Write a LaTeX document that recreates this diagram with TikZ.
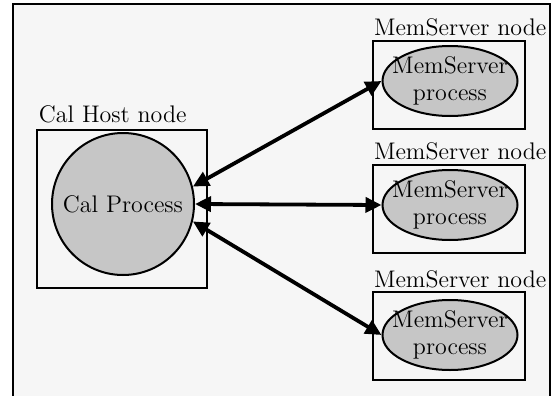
\documentclass[tikz,border=0pt]{standalone}
\usepackage{tikz}
\usetikzlibrary{arrows.meta,shapes.geometric}

\begin{document}
\begin{tikzpicture}[
            x=0.5pt, y=-0.5pt, line width=1pt,
            font=\fontsize{12}{13.5}\selectfont,
        host box/.style={draw,minimum width=85pt,minimum height=79pt,inner sep=0pt},
        mem box/.style={draw,minimum width=76pt,minimum height=44pt,inner sep=0pt},
        box label/.style={anchor=base west,inner sep=0pt},
        cal proc/.style={circle,draw,fill=gray!45,minimum size=71pt,inner sep=0pt},
        mem proc/.style={ellipse,draw,fill=gray!45,minimum width=67.5pt,minimum height=35pt,inner sep=0pt},
        proc text/.style={align=center,inner sep=0pt},
        link/.style={{Triangle[length=8pt,width=7.5pt]}-{Triangle[length=8pt,width=7.5pt]},line width=1.9pt}
                                ]
          \useasboundingbox (0,0) rectangle (557,396);
          \clip (0,0) rectangle (557,396);
          \draw[fill=gray!7,line width=1.2pt] (13,4) rectangle (550,410);

          % host side
          \node[host box] (host) at (122,209) {};
          \node[box label] (hostlbl) at (38,122) {Cal Host node};
          \node[cal proc] (cal) at (123,204) {Cal Process};

          % memservers
          \node[mem box] (box1) at (449,85) {};
          \node[mem box] (box2) at (449,209) {};
          \node[mem box] (box3) at (449,336) {};
          \node[box label] (lbl1) at (373,35) {MemServer node};
          \node[box label] (lbl2) at (373,159) {MemServer node};
          \node[box label] (lbl3) at (373,287) {MemServer node};
          \node[mem proc] (ms1) at (450,81) {};
          \node[mem proc] (ms2) at (450,205) {};
          \node[mem proc] (ms3) at (450,335) {};
          \node[proc text] (ms1txt) at (ms1) {MemServer\\process};
          \node[proc text] (ms2txt) at (ms2) {MemServer\\process};
          \node[proc text] (ms3txt) at (ms3) {MemServer\\process};

          \path
            (cal.14) edge[link] (ms1.west)
            (cal.east) edge[link] (ms2.west)
            (cal.-14) edge[link] (ms3.west);
    \end{tikzpicture}
\end{document}
